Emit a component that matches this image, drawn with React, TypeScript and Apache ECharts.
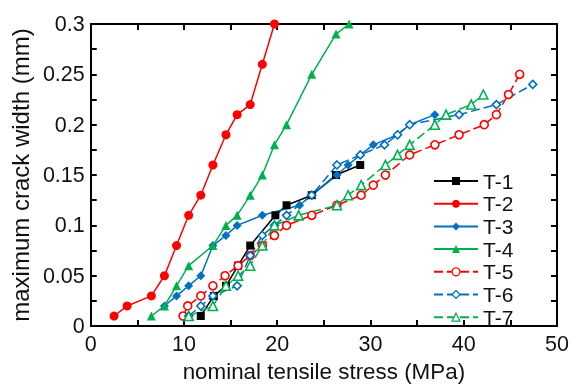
import React, { useEffect, useRef } from "react";
import * as echarts from "echarts";

const seriesNames = ["T-1", "T-2", "T-3", "T-4", "T-5", "T-6", "T-7"];

const t1X = [11.8, 13.2, 14.5, 15.8, 17.1, 19.8, 21.0, 23.7, 26.3, 28.9];
const t1Y = [0.01, 0.03, 0.04, 0.06, 0.08, 0.11, 0.12, 0.13, 0.15, 0.16];

const t2X = [2.5, 3.9, 6.5, 7.9, 9.2, 10.5, 11.8, 13.1, 14.5, 15.7, 17.1, 18.4, 19.7];
const t2Y = [0.01, 0.02, 0.03, 0.05, 0.08, 0.11, 0.13, 0.16, 0.19, 0.21, 0.22, 0.26, 0.3];

const t3X = [7.9, 9.2, 10.5, 11.8, 13.1, 14.5, 15.7, 18.4, 22.4, 23.7, 26.4, 27.6, 28.9, 30.3, 32.9, 34.2, 36.9];
const t3Y = [0.02, 0.03, 0.04, 0.05, 0.08, 0.09, 0.1, 0.11, 0.12, 0.13, 0.15, 0.16, 0.17, 0.18, 0.19, 0.2, 0.21];

const t4X = [6.5, 7.9, 9.2, 10.5, 13.1, 14.5, 15.7, 17.1, 18.4, 19.7, 21.0, 23.7, 26.3, 27.7];
const t4Y = [0.01, 0.02, 0.04, 0.06, 0.08, 0.1, 0.11, 0.13, 0.15, 0.18, 0.2, 0.25, 0.29, 0.3];

const t5X = [9.9, 10.4, 11.8, 13.1, 14.4, 15.8, 17.1, 18.4, 19.7, 21.0, 23.7, 26.4, 29.0, 30.3, 31.6, 34.2, 36.9, 39.5, 42.2, 43.5, 44.8, 46.0];
const t5Y = [0.01, 0.02, 0.03, 0.04, 0.05, 0.06, 0.07, 0.08, 0.09, 0.1, 0.11, 0.12, 0.13, 0.14, 0.15, 0.17, 0.18, 0.19, 0.2, 0.21, 0.23, 0.25];

const t6X = [10.5, 11.8, 13.1, 15.7, 17.1, 18.4, 19.7, 21.0, 23.7, 26.4, 28.9, 31.5, 32.9, 34.2, 39.5, 43.5, 47.4];
const t6Y = [0.01, 0.02, 0.03, 0.04, 0.07, 0.09, 0.1, 0.11, 0.13, 0.16, 0.17, 0.18, 0.19, 0.2, 0.21, 0.22, 0.24];

const t7X = [10.5, 13.1, 14.5, 15.8, 17.1, 18.4, 19.7, 22.3, 26.4, 27.6, 29.0, 31.6, 32.9, 34.2, 36.9, 38.1, 40.8, 42.1];
const t7Y = [0.01, 0.02, 0.04, 0.05, 0.06, 0.08, 0.1, 0.11, 0.12, 0.13, 0.14, 0.16, 0.17, 0.18, 0.2, 0.21, 0.22, 0.23];

const xTickMin = 0;
const xTickMax = 50;
const yTickMin = 0;
const yTickMax = 0.3;

const zip = (xs: number[], ys: number[]) => xs.map((x, i) => [x, ys[i]]);

const FONT = "'Liberation Sans', Arial, sans-serif";

export default function App() {
  const ref = useRef<HTMLDivElement>(null);
  useEffect(() => {
    document.body.style.margin = "0";
    const chart = echarts.init(ref.current!, undefined, { renderer: "svg" });
    const RED = "#ff0000";
    const BLUE = "#0070c0";
    const GREEN = "#00b050";
    const BLACK = "#000000";
    const dash = [9, 4];
    const mk = (
      name: string,
      xs: number[],
      ys: number[],
      color: string,
      symbol: string,
      size: number,
      hollow: boolean
    ) => ({
      name,
      type: "line",
      data: zip(xs, ys),
      symbol,
      symbolSize: size,
      showAllSymbol: true,
      lineStyle: { color, width: 1.5, type: hollow ? dash : "solid" },
      itemStyle: hollow
        ? { color: "#ffffff", borderColor: color, borderWidth: 1.6 }
        : { color, borderColor: color, borderWidth: 0 },
      emphasis: { disabled: true },
    });

    const axisCommon = {
      type: "value",
      axisLine: { show: true, onZero: false, lineStyle: { color: "#000", width: 2 } },
      axisTick: { show: true, inside: true, length: 6, lineStyle: { color: "#000", width: 2 } },
      minorTick: { show: true, splitNumber: 2, length: 6, lineStyle: { color: "#000", width: 2 } },
      splitLine: { show: false },
      minorSplitLine: { show: false },
    };

    const hollowNames = ["T-5", "T-6", "T-7"];

    chart.setOption({
      animation: false,
      grid: { left: 88, right: 17, top: 24, bottom: 51, containLabel: false },
      legend: {
        orient: "vertical",
        left: 428,
        top: 165.5,
        itemWidth: 44,
        itemHeight: 10,
        itemGap: 1.7,
        data: seriesNames.map((n) =>
          hollowNames.includes(n) ? { name: n, itemStyle: { borderWidth: 1.2 } } : { name: n }
        ),
        textStyle: { fontFamily: FONT, fontSize: 21, color: "#111", lineHeight: 21 },
      },
      xAxis: [
        {
          ...axisCommon,
          position: "bottom",
          min: xTickMin,
          max: xTickMax,
          interval: 10,
          name: "nominal tensile stress (MPa)",
          nameLocation: "middle",
          nameGap: 30,
          nameTextStyle: { fontFamily: FONT, fontSize: 22.4, color: "#111" },
          axisLabel: { fontFamily: FONT, fontSize: 21.5, color: "#111", margin: 7 },
        },
        {
          ...axisCommon,
          position: "top",
          min: xTickMin,
          max: xTickMax,
          interval: 10,
          axisLabel: { show: false },
        },
      ],
      yAxis: [
        {
          ...axisCommon,
          position: "left",
          min: yTickMin,
          max: yTickMax,
          interval: 0.05,
          name: "maximum crack width (mm)",
          nameLocation: "middle",
          nameGap: 50,
          nameTextStyle: { fontFamily: FONT, fontSize: 24, color: "#111" },
          axisLabel: { fontFamily: FONT, fontSize: 21.5, color: "#111", margin: 6 },
        },
        {
          ...axisCommon,
          position: "right",
          min: yTickMin,
          max: yTickMax,
          interval: 0.05,
          axisLabel: { show: false },
        },
      ],
      series: [
        mk("T-1", t1X, t1Y, BLACK, "rect", 8, false),
        mk("T-2", t2X, t2Y, RED, "circle", 9, false),
        mk("T-3", t3X, t3Y, BLUE, "diamond", 9, false),
        mk("T-4", t4X, t4Y, GREEN, "triangle", 9, false),
        mk("T-5", t5X, t5Y, RED, "circle", 8, true),
        mk("T-6", t6X, t6Y, BLUE, "diamond", 8, true),
        mk("T-7", t7X, t7Y, GREEN, "triangle", 9, true),
      ],
    });
    return () => chart.dispose();
  }, []);
  return <div ref={ref} style={{ position: "fixed", left: 0, top: 0, width: 574, height: 387 }} />;
}
